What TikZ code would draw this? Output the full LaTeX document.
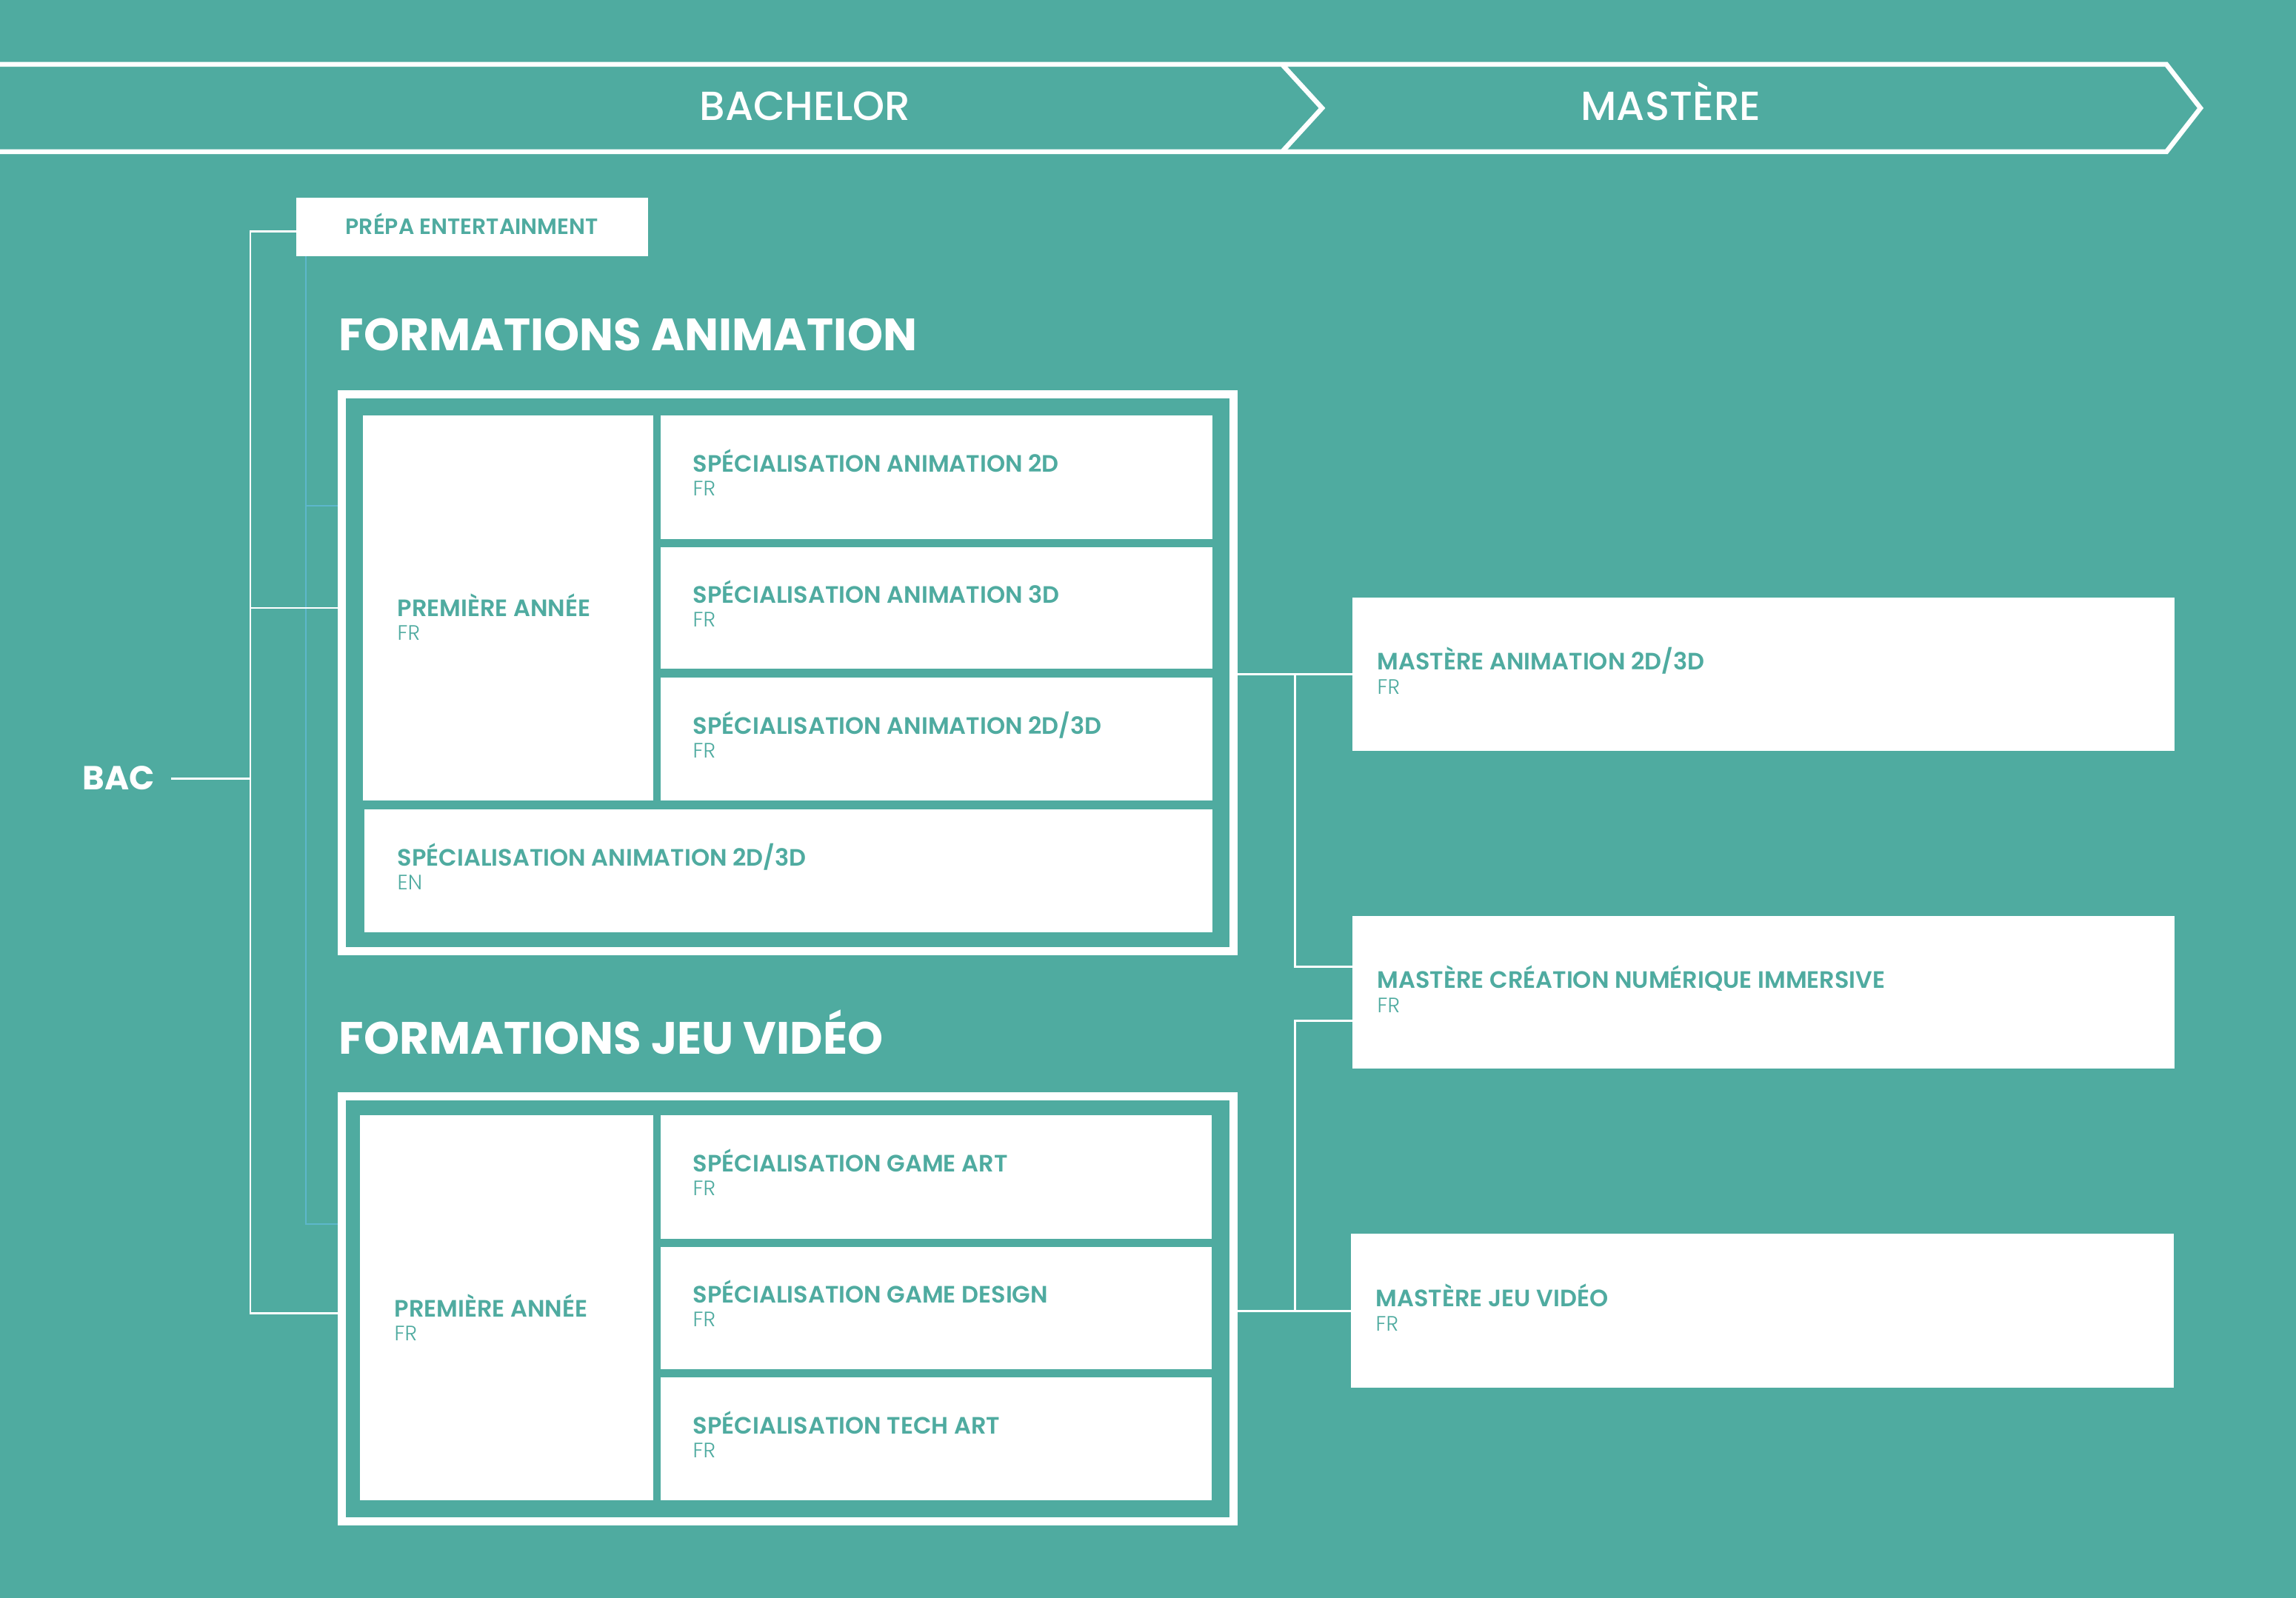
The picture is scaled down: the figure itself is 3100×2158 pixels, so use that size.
\documentclass[tikz,border=0pt]{standalone}
\usepackage{fontspec}
\setmainfont{Poppins}
\newfontfamily\bandfnt{Poppins Medium}
\newfontfamily\headfnt{Poppins Bold}
\newfontfamily\coursefnt{Poppins SemiBold}
\newfontfamily\langfnt{Poppins Light}
\usetikzlibrary{fit}
\usetikzlibrary{calc}
\definecolor{bgteal}{HTML}{4FABA0}
\definecolor{prepblue}{HTML}{5DB7CB}
\tikzstyle{cell}=[fill=white, inner sep=0, outer sep=0]
\tikzstyle{frame}=[draw=white, line width=3.13pt, inner sep=0]
\tikzstyle{course}=[anchor=base west, inner sep=0, text=bgteal, font=\coursefnt\fontsize{9.1pt}{10pt}\selectfont]
\tikzstyle{lang}=[anchor=base west, inner sep=0, text=bgteal, font=\langfnt\fontsize{8pt}{9pt}\selectfont]
\tikzstyle{heading}=[anchor=base west, inner sep=0, text=white, font=\headfnt\fontsize{17.4pt}{18pt}\selectfont]
\tikzstyle{band}=[draw=white, line width=1.85pt, line join=miter]
\tikzstyle{band label}=[anchor=base, inner sep=0, text=white, font=\bandfnt\fontsize{15.6pt}{16pt}\selectfont]
\tikzstyle{link}=[draw=white, line width=0.85pt]
\tikzstyle{prep link}=[draw=prepblue, line width=0.6pt]

\begin{document}
\begin{tikzpicture}[x=0.01cm, y=-0.01cm]
  \fill[bgteal] (0,0) rectangle (3100,2158);
  \useasboundingbox (0,0) rectangle (3100,2158);

  % cycle band
  \draw[band] (0,87) -- (2925,87) -- (2971,146) -- (2925,205) -- (0,205);
  \draw[band] (1731,87) -- (1785,146) -- (1731,205);
  \node[band label] (bachelor) at (1087,163) {BACHELOR};
  \node[band label] (mastere) at (2256,163) {MASTÈRE};

  % bac and prepa
  \node[text=white, inner xsep=6.26pt, inner ysep=0, font=\headfnt\fontsize{12.8pt}{14pt}\selectfont] (bac) at (160,1051) {BAC};
  \node[cell, fit={(400,267) (875,346)}] (prepa) {};
  \node[course, font=\coursefnt\fontsize{8.5pt}{9pt}\selectfont] (t-prepa) at (466,317) {PRÉPA ENTERTAINMENT};

  % formations animation
  \node[heading] (an-title) at (457,474) {FORMATIONS ANIMATION};
  \node[frame, fit={(461.5,532.5) (1665.5,1284.5)}] (anbox) {};
  \node[cell, fit={(490,561) (882,1081)}] (anPA) {};
  \node[cell, fit={(892,561) (1637,728)}] (a2d) {};
  \node[cell, fit={(892,739) (1637,903)}] (a3d) {};
  \node[cell, fit={(892,915) (1637,1081)}] (a23) {};
  \node[cell, fit={(492,1093) (1637,1259)}] (aen) {};

  \node[course] (t-anPA) at ($(anPA.west)+(46,11)$) {PREMIÈRE ANNÉE};
  \node[lang] (l-anPA) at ($(t-anPA.base west)+(0,32)$) {FR};
  \node[course] (t-a2d) at ($(a2d.west)+(43,-7)$) {SPÉCIALISATION ANIMATION 2D};
  \node[lang] (l-a2d) at ($(t-a2d.base west)+(0,32)$) {FR};
  \node[course] (t-a3d) at ($(a3d.west)+(43,-7)$) {SPÉCIALISATION ANIMATION 3D};
  \node[lang] (l-a3d) at ($(t-a3d.base west)+(0,32)$) {FR};
  \node[course] (t-a23) at ($(a23.west)+(43,-7)$) {SPÉCIALISATION ANIMATION 2D/3D};
  \node[lang] (l-a23) at ($(t-a23.base west)+(0,32)$) {FR};
  \node[course] (t-aen) at ($(aen.west)+(44,-7)$) {SPÉCIALISATION ANIMATION 2D/3D};
  \node[lang] (l-aen) at ($(t-aen.base west)+(0,32)$) {EN};

  % formations jeu video
  \node[heading] (jv-title) at (457,1423) {FORMATIONS JEU VIDÉO};
  \node[frame, fit={(461.5,1480.5) (1665.5,2054.5)}] (jvbox) {};
  \node[cell, fit={(486,1506) (882,2026)}] (jvPA) {};
  \node[cell, fit={(892,1506) (1636,1673)}] (jart) {};
  \node[cell, fit={(892,1684) (1636,1849)}] (jdes) {};
  \node[cell, fit={(892,1860) (1636,2026)}] (jtech) {};

  \node[course] (t-jvPA) at ($(jvPA.west)+(46,12)$) {PREMIÈRE ANNÉE};
  \node[lang] (l-jvPA) at ($(t-jvPA.base west)+(0,32)$) {FR};
  \node[course] (t-jart) at ($(jart.west)+(43,-7)$) {SPÉCIALISATION GAME ART};
  \node[lang] (l-jart) at ($(t-jart.base west)+(0,32)$) {FR};
  \node[course] (t-jdes) at ($(jdes.west)+(43,-7)$) {SPÉCIALISATION GAME DESIGN};
  \node[lang] (l-jdes) at ($(t-jdes.base west)+(0,32)$) {FR};
  \node[course] (t-jtech) at ($(jtech.west)+(43,-7)$) {SPÉCIALISATION TECH ART};
  \node[lang] (l-jtech) at ($(t-jtech.base west)+(0,32)$) {FR};

  % masteres
  \node[cell, fit={(1826,807) (2936,1014)}] (m1) {};
  \node[cell, fit={(1826,1237) (2936,1443)}] (m2) {};
  \node[cell, fit={(1824,1666) (2935,1874)}] (m3) {};
  \node[course] (t-m1) at ($(m1.west)+(33,-6)$) {MASTÈRE ANIMATION 2D/3D};
  \node[lang] (l-m1) at ($(t-m1.base west)+(0,33)$) {FR};
  \node[course] (t-m2) at ($(m2.west)+(33,-6)$) {MASTÈRE CRÉATION NUMÉRIQUE IMMERSIVE};
  \node[lang] (l-m2) at ($(t-m2.base west)+(0,33)$) {FR};
  \node[course] (t-m3) at ($(m3.west)+(33,-6)$) {MASTÈRE JEU VIDÉO};
  \node[lang] (l-m3) at ($(t-m3.base west)+(0,33)$) {FR};

  % left connectors
  \coordinate (spine) at (338,0);
  \coordinate (prepspine) at (413,0);
  \draw[prep link] (prepspine |- prepa.south) -- (prepspine |- 0,1653) -- (jvbox.west |- 0,1653);
  \draw[prep link] (prepspine |- 0,683) -- (anbox.west |- 0,683);
  \draw[link] ($(prepa.west)+(0,6)$) -| ($(spine |- jvbox.west)+(0,6)$) -- ($(jvbox.west)+(0,6)$);
  \draw[link] (spine |- anPA.west) -- (anbox.west |- anPA.west);
  \draw[link] (bac.east) -- (spine |- bac.east);

  % right connectors
  \coordinate (rspine) at (1748,0);
  \draw[link] (anbox.east |- m1.west) -- (m1.west);
  \draw[link] (rspine |- m1.west) |- ($(m2.west)+(0,-35)$);
  \draw[link] ($(m2.west)+(0,38)$) -| (rspine |- m3.west);
  \draw[link] (jvbox.east |- m3.west) -- (m3.west);
\end{tikzpicture}
\end{document}
